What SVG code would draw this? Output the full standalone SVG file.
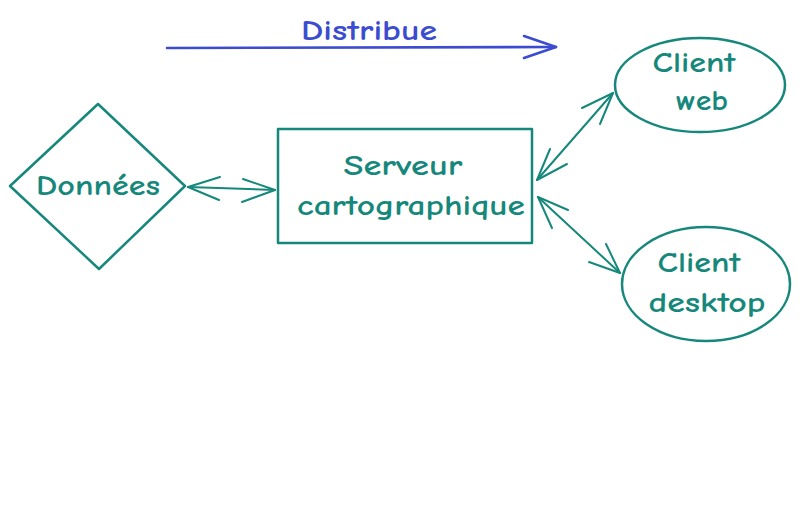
<svg xmlns="http://www.w3.org/2000/svg" width="800" height="512" viewBox="0 0 800 512">
  <defs>
    <style>
      .shape { fill: none; stroke: #16887b; stroke-width: 2.5; stroke-linejoin: round; stroke-linecap: round; }
      .link { fill: none; stroke: #16887b; stroke-width: 2; stroke-linecap: round; stroke-linejoin: round; }
      .label { font-family: "Comic Neue", "Open Sans", "Liberation Sans", sans-serif; font-size: 28px; font-weight: 700; fill: #16887b; text-anchor: middle; }
      .blue { stroke: #3b4cd0; fill: none; stroke-width: 2.6; stroke-linecap: round; stroke-linejoin: round; }
      .blue-text { font-family: "Comic Neue", "Open Sans", "Liberation Sans", sans-serif; font-size: 28px; font-weight: 700; fill: #3b4cd0; text-anchor: middle; }
    </style>
  </defs>
  <rect width="800" height="512" fill="#ffffff"/>

  <!-- connectors -->
  <g id="connectors">
    <!-- Distribue -->
    <g id="distribue-arrow">
      <path class="blue" d="M167 48 L556 47"/>
      <path class="blue" d="M524 36 L556 47 L524 58"/>
      <text class="blue-text" x="369" y="40" textLength="136" lengthAdjust="spacingAndGlyphs">Distribue</text>
    </g>
    <!-- Données <-> Serveur -->
    <path class="link" d="M188 187 L275 190"/>
    <path class="link" d="M220 177 L188 187 L219 200"/>
    <path class="link" d="M243 179 L275 190 L242 202"/>
    <!-- Serveur <-> Client web -->
    <path class="link" d="M537 180 L613 93"/>
    <path class="link" d="M550 149 L537 180 L567 164"/>
    <path class="link" d="M582 108 L613 93 L600 124"/>
    <!-- Serveur <-> Client desktop -->
    <path class="link" d="M538 197 L620 273"/>
    <path class="link" d="M568 210 L538 197 L552 228"/>
    <path class="link" d="M589 262 L620 273 L606 244"/>
  </g>

  <g id="donnees">
    <path class="shape" d="M98 104 L185 186 L99 269 L10 186 Z"/>
    <text class="label" x="98" y="195" textLength="124" lengthAdjust="spacingAndGlyphs">Données</text>
  </g>

  <g id="serveur">
    <rect class="shape" x="278" y="129" width="254" height="114"/>
    <text class="label" x="403" y="175" textLength="119" lengthAdjust="spacingAndGlyphs">Serveur</text>
    <text class="label" x="411" y="215" textLength="228" lengthAdjust="spacingAndGlyphs">cartographique</text>
  </g>

  <g id="client-web">
    <ellipse class="shape" cx="700" cy="85" rx="85" ry="47"/>
    <text class="label" x="694" y="72" textLength="83" lengthAdjust="spacingAndGlyphs">Client</text>
    <text class="label" x="702" y="110" textLength="52" lengthAdjust="spacingAndGlyphs">web</text>
  </g>

  <g id="client-desktop">
    <ellipse class="shape" cx="706" cy="284" rx="84" ry="57"/>
    <text class="label" x="699" y="272" textLength="83" lengthAdjust="spacingAndGlyphs">Client</text>
    <text class="label" x="707" y="312" textLength="117" lengthAdjust="spacingAndGlyphs">desktop</text>
  </g>
</svg>
